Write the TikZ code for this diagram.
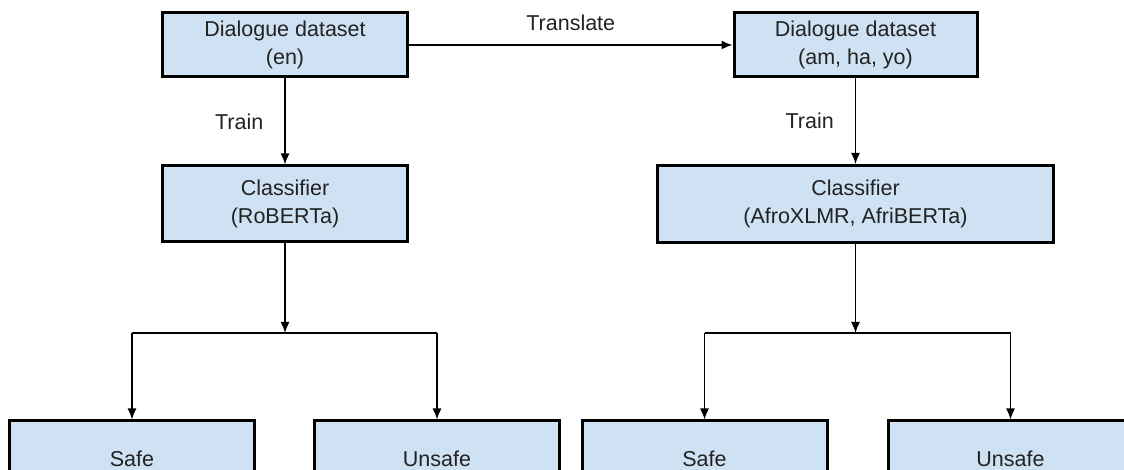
\documentclass[tikz,border=0pt]{standalone}
\usepackage{fontspec}
\setmainfont{Liberation Sans}
\usetikzlibrary{arrows.meta}
\definecolor{boxblue}{HTML}{CFE2F3}
\definecolor{txtgray}{HTML}{222222}
\tikzset{
  stage/.style={draw, line width=3pt, fill=boxblue, text=txtgray, align=center,
    minimum width=245pt, minimum height=64pt, inner sep=0pt,
    font=\fontsize{21.5}{28}\selectfont},
  lbl/.style={text=txtgray, inner sep=2pt, font=\fontsize{21.5}{28}\selectfont},
  flow/.style={->, line width=1.5pt},
}
\begin{document}
\begin{tikzpicture}[x=1pt, y=1pt, >={Latex[length=11pt,width=9pt]}]
    \useasboundingbox (0,0) rectangle (1124,470);
    \clip (0,0) rectangle (1124,470);
    % english side
    \node[stage] (dsen) at (285,425) {Dialogue dataset\\(en)};
    \node[stage, minimum height=76pt] (clsen) at (285,266) {Classifier\\(RoBERTa)};
    \node[stage, minimum height=76pt] (safeen) at (132,11) {Safe};
    \node[stage, minimum height=76pt] (unsafeen) at (437,11) {Unsafe};
    % translated side
    \node[stage, minimum width=243pt] (dsaf) at (855.5,425) {Dialogue dataset\\(am, ha, yo)};
    \node[stage, minimum width=396pt, minimum height=77pt] (clsaf) at (855.5,266) {Classifier\\(AfroXLMR, AfriBERTa)};
    \node[stage, minimum height=76pt] (safeaf) at (704.5,11) {Safe};
    \node[stage, minimum height=76pt] (unsafeaf) at (1010.5,11) {Unsafe};
    \coordinate (spen) at (285,137);
    \coordinate (spaf) at (855.5,137);

    \draw[flow] (dsen) -- node[lbl, above=12pt] {Translate} (dsaf);
    \draw[flow] (dsen) -- node[lbl, left=19pt] {Train} (clsen);
    \draw[flow] (dsaf) -- node[lbl, left=19pt] {Train} (clsaf);
    \draw[flow] (clsen) -- (spen);
    \draw[flow] (clsaf) -- (spaf);
    \draw[line width=1.5pt] (safeen.north |- spen) -- (unsafeen.north |- spen);
    \draw[line width=1.5pt] (safeaf.north |- spaf) -- (unsafeaf.north |- spaf);
    \draw[flow] (safeen.north |- spen) -- (safeen);
    \draw[flow] (unsafeen.north |- spen) -- (unsafeen);
    \draw[flow] (safeaf.north |- spaf) -- (safeaf);
    \draw[flow] (unsafeaf.north |- spaf) -- (unsafeaf);
\end{tikzpicture}
\end{document}
